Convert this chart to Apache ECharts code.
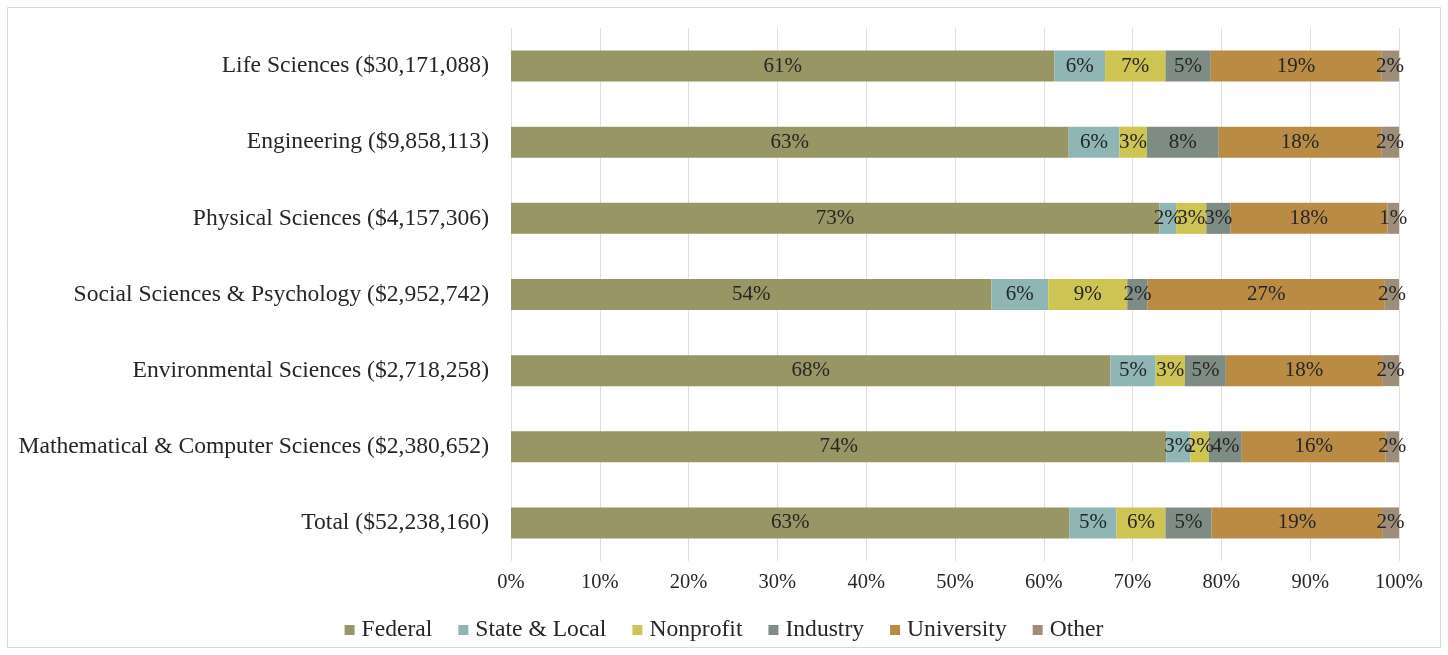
<!DOCTYPE html>
<html>
<head>
<meta charset="utf-8">
<title>Research funding by source</title>
<script src="https://cdn.jsdelivr.net/npm/echarts@6/dist/echarts.min.js"></script>
<style>
  html, body { margin: 0; padding: 0; background: #ffffff; }
  #chart { width: 1448px; height: 655px; }
</style>
</head>
<body>
<div id="chart"></div>
<script>
// Fields of science, top to bottom, with total expenditure
const categories = [
  'Life Sciences ($30,171,088)',
  'Engineering ($9,858,113)',
  'Physical Sciences ($4,157,306)',
  'Social Sciences & Psychology ($2,952,742)',
  'Environmental Sciences ($2,718,258)',
  'Mathematical & Computer Sciences ($2,380,652)',
  'Total ($52,238,160)'
];

// Share of funding (%) by source, same order as categories
const federal     = [61.2, 62.8, 73.0, 54.1, 67.5, 73.8, 62.9];
const stateLocal  = [5.7, 5.7, 1.9, 6.4, 5.1, 2.7, 5.3];
const nonprofit   = [6.8, 3.1, 3.4, 8.9, 3.3, 2.1, 5.5];
const industry    = [5.1, 8.1, 2.7, 2.3, 4.6, 3.7, 5.2];
const university  = [19.2, 18.3, 17.7, 26.7, 17.6, 16.2, 19.2];
const other       = [2.0, 2.0, 1.3, 1.6, 1.9, 1.5, 1.9];

const sourceNames = ['Federal', 'State & Local', 'Nonprofit', 'Industry', 'University', 'Other'];
const sourceData = [federal, stateLocal, nonprofit, industry, university, other];
const sourceColors = ['#999665', '#8fb5b5', '#cdc453', '#7f8c84', '#b98b44', '#9e8d78'];

const xTicks = [0, 10, 20, 30, 40, 50, 60, 70, 80, 90, 100];

const serif = '"Liberation Serif", "Times New Roman", serif';
const chart = echarts.init(document.getElementById('chart'));

chart.setOption({
  backgroundColor: '#ffffff',
  animation: false,
  textStyle: { fontFamily: serif, color: '#262626' },
  graphic: [{
    type: 'rect',
    shape: { x: 7.5, y: 7.5, width: 1433, height: 640 },
    style: { fill: 'none', stroke: '#d9d9d9', lineWidth: 1 },
    silent: true
  }],
  grid: { left: 511, right: 49, top: 28, bottom: 94, containLabel: false },
  xAxis: {
    type: 'value',
    min: 0,
    max: 100,
    interval: 10,
    axisLine: { show: false },
    axisTick: { show: false },
    splitLine: { show: true, lineStyle: { color: '#e3ded6', width: 1 } },
    axisLabel: {
      margin: 11,
      fontFamily: serif,
      fontSize: 20.5,
      color: '#262626',
      formatter: v => (xTicks.indexOf(v) >= 0 ? v + '%' : '')
    }
  },
  yAxis: {
    type: 'category',
    inverse: true,
    data: categories,
    axisLine: { show: false },
    axisTick: { show: false },
    axisLabel: { margin: 22, fontFamily: serif, fontSize: 23.6, color: '#262626' }
  },
  legend: {
    top: 613,
    left: 'center',
    itemWidth: 10,
    itemHeight: 10,
    itemGap: 26,
    icon: 'rect',
    textStyle: { fontFamily: serif, fontSize: 23.6, color: '#262626', padding: [0, 0, 0, 2] },
    data: sourceNames
  },
  series: sourceNames.map((name, i) => ({
    name: name,
    type: 'bar',
    stack: 'share',
    barWidth: 31,
    itemStyle: { color: sourceColors[i] },
    label: {
      show: true,
      position: 'inside',
      fontFamily: serif,
      fontSize: 21,
      color: '#262626',
      formatter: p => Math.round(p.value) + '%'
    },
    labelLayout: { hideOverlap: false },
    data: sourceData[i]
  }))
});
</script>
</body>
</html>
